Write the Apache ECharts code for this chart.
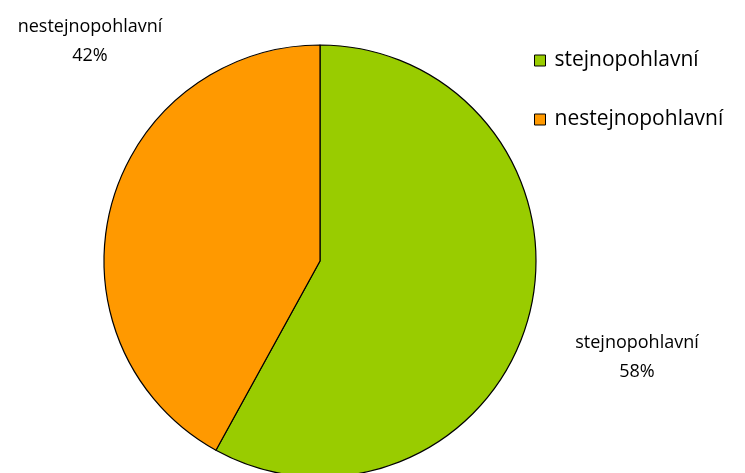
<!DOCTYPE html>
<html><head><meta charset="utf-8">
<script src="https://cdn.jsdelivr.net/npm/echarts@6/dist/echarts.min.js"></script>
<style>html,body{margin:0;padding:0;background:#fff}#c{width:745px;height:473px}</style>
</head><body><div id="c"></div>
<script>
const categories = ['stejnopohlavní', 'nestejnopohlavní'];
const values = [58, 42];
const colors = ['#99CC00', '#FF9900'];
const labelPos = [{x: 637, y: 357}, {x: 90, y: 41}];

const chart = echarts.init(document.getElementById('c'));
chart.setOption({
  animation: false,
  legend: {
    orient: 'vertical',
    left: 529,
    top: 45,
    itemWidth: 11,
    itemHeight: 11,
    itemGap: 38,
    icon: 'rect',
    textStyle: {fontFamily: 'Open Sans', fontSize: 21, color: '#000', padding: [0, 0, 0, 4]},
    itemStyle: {borderColor: '#000', borderWidth: 1}
  },
  series: [{
    type: 'pie',
    center: [320, 261],
    radius: 216,
    startAngle: 90,
    clockwise: true,
    data: categories.map((c, i) => ({name: c, value: values[i], itemStyle: {color: colors[i]}})),
    itemStyle: {borderColor: '#000', borderWidth: 1.2},
    label: {
      show: true,
      formatter: p => p.name + '\n' + p.value + '%',
      fontFamily: 'Open Sans',
      fontSize: 18,
      lineHeight: 29,
      color: '#000',
      align: 'center',
      overflow: 'none',
      width: 300
    },
    labelLine: {show: false},
    labelLayout: p => ({x: labelPos[p.dataIndex].x, y: labelPos[p.dataIndex].y, align: 'center', verticalAlign: 'middle'}),
    emphasis: {disabled: true}
  }]
});
</script></body></html>
